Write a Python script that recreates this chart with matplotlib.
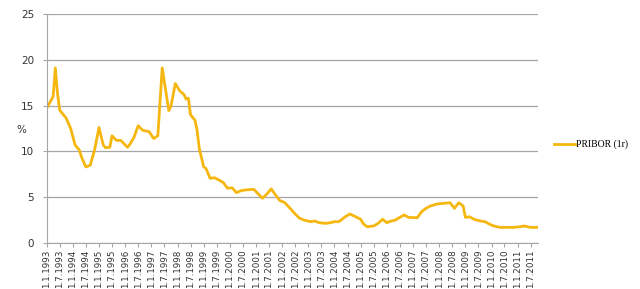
import matplotlib
matplotlib.use('Agg')
import matplotlib.pyplot as plt
import matplotlib.dates as mdates
from matplotlib.ticker import FuncFormatter
import pandas as pd

# months counted from 1.1.1993
months = [0, 3, 4, 5, 6, 9, 11, 13, 15, 16, 18, 20, 22, 24, 26, 27, 29, 30, 32, 34,
          37, 38, 40, 42, 44, 47, 49, 51, 53, 56, 57, 59, 61, 63, 64, 65, 66, 68, 69, 70,
          72, 73, 75, 77, 79, 81, 83, 85, 87, 89, 91, 95, 97, 99, 101, 103, 105, 107, 109, 111,
          114, 116, 118, 121, 123, 125, 128, 130, 132, 134, 137, 139, 141, 144, 145, 147, 150, 152, 154, 156,
          157, 160, 162, 164, 166, 170, 172, 174, 176, 179, 182, 185, 187, 189, 191, 192, 194, 196, 199, 201,
          203, 205, 208, 211, 214, 217, 219, 222, 225]
pribor = [14.7, 16.0, 19.1, 16.3, 14.5, 13.6, 12.5, 10.7, 10.15, 9.4, 8.3, 8.5, 10.2, 12.6, 10.7, 10.4, 10.45, 11.7, 11.2, 11.2,
          10.45, 10.7, 11.5, 12.8, 12.3, 12.15, 11.4, 11.7, 19.1, 14.45, 14.9, 17.4, 16.6, 16.2, 15.7, 15.8, 14.0, 13.4, 12.3, 10.3,
          8.3, 8.15, 7.06, 7.13, 6.88, 6.6, 5.97, 6.04, 5.5, 5.7, 5.79, 5.86, 5.35, 4.88, 5.35, 5.9, 5.24, 4.62, 4.44, 3.96,
          3.17, 2.7, 2.51, 2.33, 2.4, 2.22, 2.15, 2.22, 2.33, 2.33, 2.87, 3.17, 2.95, 2.59, 2.15, 1.78, 1.86, 2.15, 2.59, 2.22,
          2.33, 2.51, 2.8, 3.06, 2.8, 2.76, 3.42, 3.79, 4.04, 4.26, 4.33, 4.4, 3.79, 4.4, 4.04, 2.8, 2.87, 2.59, 2.4, 2.33,
          2.07, 1.86, 1.71, 1.71, 1.71, 1.78, 1.86, 1.71, 1.71]
series_name = 'PRIBOR (1r)'

start = pd.Timestamp('1993-01-01')
dates = [start + pd.DateOffset(months=m) for m in months]

fig = plt.figure(figsize=(6.4, 2.89), dpi=100)
ax = fig.add_axes([0.073, 0.159, 0.768, 0.793])

ax.plot(dates, pribor, color='#F5B70F', lw=2.0, label=series_name, solid_joinstyle='round')

ax.set_ylim(0, 25)
ax.set_yticks([0, 5, 10, 15, 20, 25])
ax.set_xlim(start, pd.Timestamp('2011-10-15'))
ax.yaxis.grid(True, color='#a6a6a6', lw=0.9)
ax.set_axisbelow(True)

ax.xaxis.set_major_locator(mdates.MonthLocator(bymonth=[1, 7]))
ax.xaxis.set_major_formatter(FuncFormatter(
    lambda v, p: '%d.%d.%d' % (mdates.num2date(v).day, mdates.num2date(v).month, mdates.num2date(v).year)))
plt.setp(ax.get_xticklabels(), rotation=90, fontsize=6.3, color='#333333')
plt.setp(ax.get_yticklabels(), fontsize=7.5, color='#333333')
ax.tick_params(axis='x', length=3, color='#a6a6a6', pad=1.5)
ax.tick_params(axis='y', length=3, color='#a6a6a6', pad=6)

for s in ['top', 'right']:
    ax.spines[s].set_visible(False)
ax.spines['left'].set_color('#a6a6a6')
ax.spines['bottom'].set_color('#a6a6a6')

fig.text(0.034, 0.55, '%', fontsize=7.5, color='#333333', ha='center', va='center')

fig.legend(loc='center left', bbox_to_anchor=(0.852, 0.5), frameon=False,
           handlelength=2.2, handletextpad=0.1,
           prop={'family': 'Liberation Serif', 'size': 7})

fig.savefig('out.png', dpi=100)
